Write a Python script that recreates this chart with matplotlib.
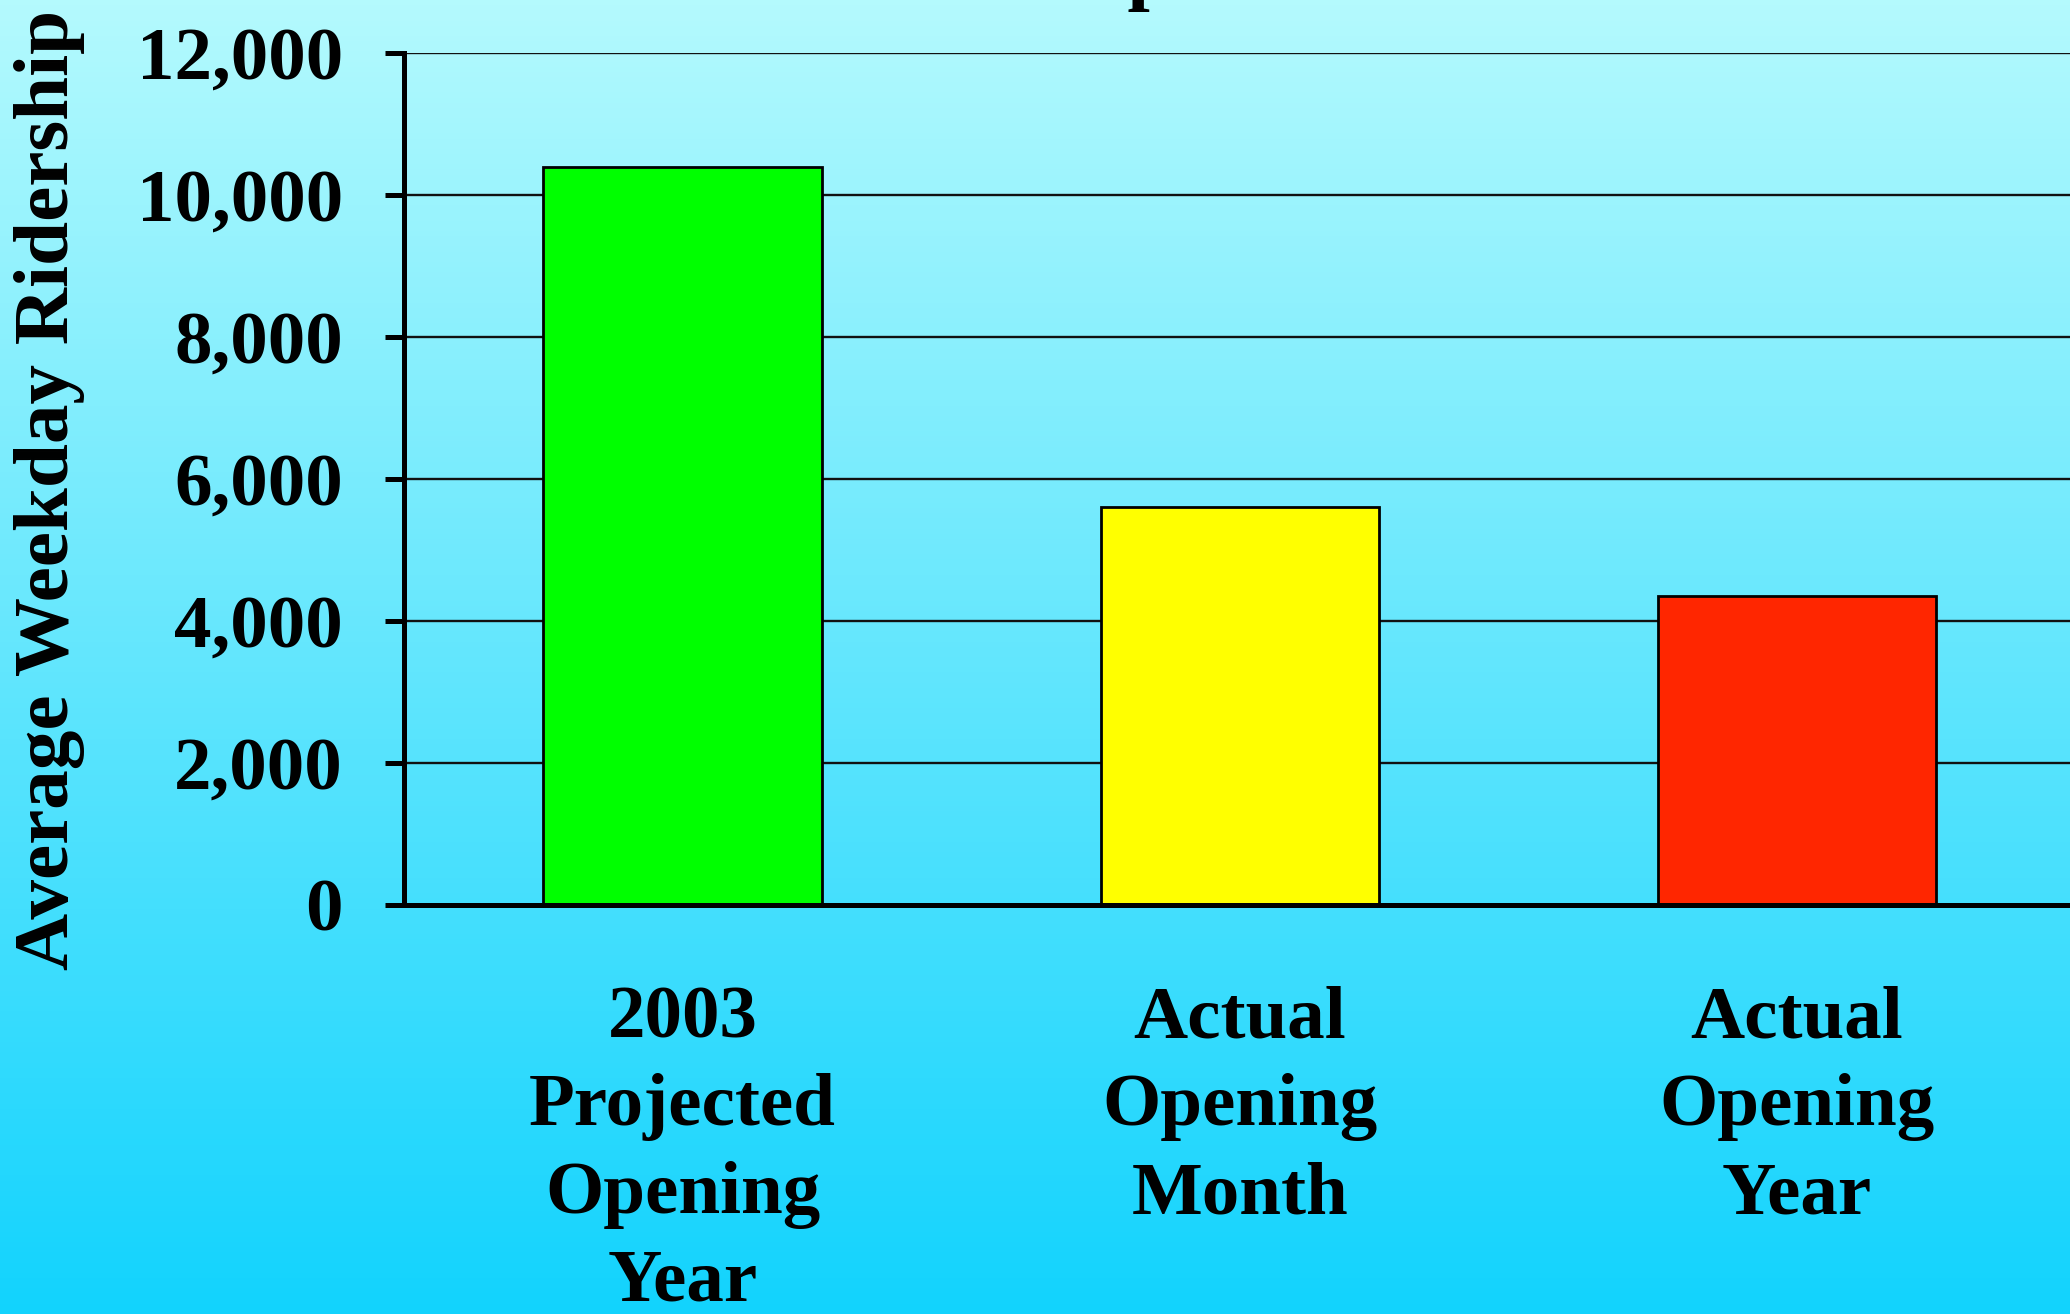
import numpy as np
import matplotlib.pyplot as plt
from matplotlib.colors import LinearSegmentedColormap

# Data
categories = ["2003\nProjected\nOpening\nYear", "Actual\nOpening\nMonth", "Actual\nOpening\nYear"]
ridership = [10400, 5600, 4350]
bar_colors = ["#00FF00", "#FFFF00", "#FF2600"]
yticks = [0, 2000, 4000, 6000, 8000, 10000, 12000]
ytick_labels = ["0", "2,000", "4,000", "6,000", "8,000", "10,000", "12,000"]

FONT = "Liberation Serif"
FS = 54

fig = plt.figure(figsize=(20.7, 13.14), dpi=100)

# Vertical background gradient (light cyan at top -> deeper cyan at bottom)
bg = fig.add_axes([0, 0, 1, 1], zorder=-10)
cmap = LinearSegmentedColormap.from_list("bg", ["#12D3FD", "#B4FAFD"])
grad = np.linspace(0, 1, 256).reshape(-1, 1)
bg.imshow(grad, aspect="auto", cmap=cmap, origin="lower", extent=[0, 1, 0, 1])
bg.set_axis_off()

ax = fig.add_axes([0.1952, 0.3113, 0.8048, 0.6484])
ax.patch.set_alpha(0)

x = np.arange(len(categories))
ax.bar(x, ridership, width=0.5, color=bar_colors, edgecolor="black", linewidth=2, zorder=3)

ax.set_xlim(-0.5, 2.49)
ax.set_ylim(0, 12000)
ax.set_yticks(yticks)
ax.set_yticklabels(ytick_labels, fontfamily=FONT, fontweight="bold", fontsize=FS)
ax.set_xticks(x)
ax.set_xticklabels(categories, fontfamily=FONT, fontweight="bold", fontsize=FS, linespacing=1.38)

ax.yaxis.grid(True, color="#111111", linewidth=1.7, zorder=0)
ax.set_axisbelow(True)

for side in ["top", "right"]:
    ax.spines[side].set_visible(False)
for side in ["left", "bottom"]:
    ax.spines[side].set_linewidth(3.6)
    ax.spines[side].set_zorder(5)

ax.tick_params(axis="y", direction="out", length=14, width=3.6, pad=30)
ax.tick_params(axis="x", length=0, pad=58)

fig.text(0.024, 0.2618, "Average Weekday Ridership", rotation=90, ha="center", va="bottom",
         fontfamily=FONT, fontweight="bold", fontsize=57)

# Title sits above the visible area
fig.text(0.465, 1.004, "Comparison", ha="left", va="baseline",
         fontfamily=FONT, fontweight="bold", fontsize=58)

fig.savefig("out.png", dpi=100)
